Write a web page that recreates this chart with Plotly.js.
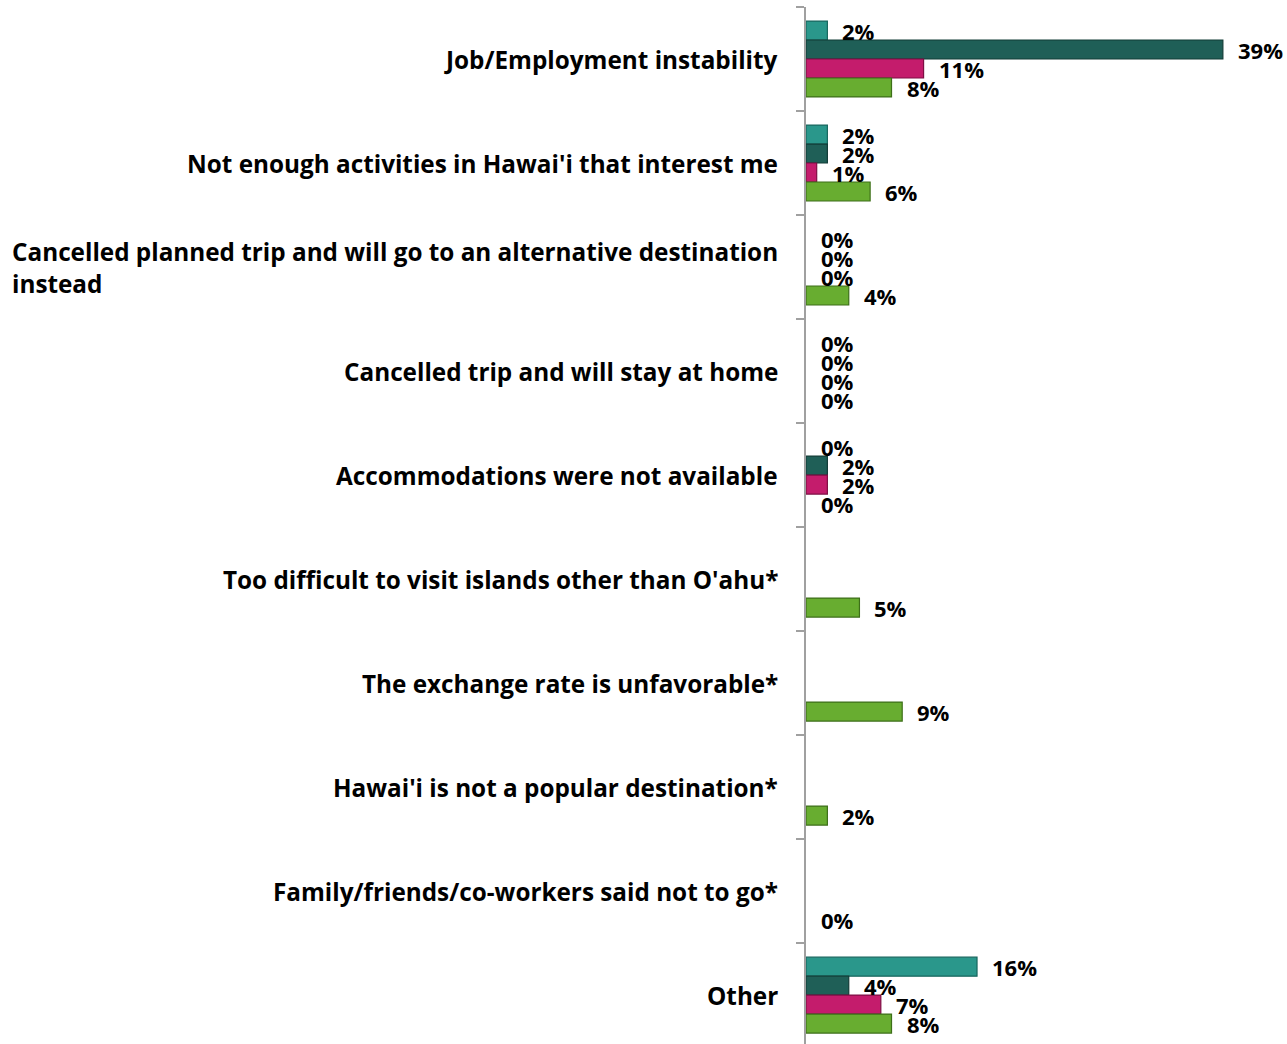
<!DOCTYPE html>
<html>
<head>
<meta charset="utf-8">
<script src="https://cdn.plot.ly/plotly-3.0.1.min.js"></script>
<style>html,body{margin:0;padding:0;background:#fff;}#chart{width:1287px;height:1044px;}</style>
</head>
<body>
<div id="chart"></div>
<script>
var categories = [
  "Job/Employment instability",
  "Not enough activities in Hawai'i that interest me",
  "Cancelled planned trip and will go to an alternative destination<br>instead",
  "Cancelled trip and will stay at home",
  "Accommodations were not available",
  "Too difficult to visit islands other than O'ahu*",
  "The exchange rate is unfavorable*",
  "Hawai'i is not a popular destination*",
  "Family/friends/co-workers said not to go*",
  "Other"
];
var series1 = [2, 2, 0, 0, 0, null, null, null, null, 16];
var series2 = [39, 2, 0, 0, 2, null, null, null, null, 4];
var series3 = [11, 1, 0, 0, 2, null, null, null, null, 7];
var series4 = [8, 6, 4, 0, 0, 5, 9, 2, 0, 8];

var seriesList = [series1, series2, series3, series4];
var fills = ["#2a978b", "#1f5f57", "#c41c6c", "#68ad30"];
var edges = ["#17665e", "#123c37", "#7e0f44", "#3d6f18"];

var traces = seriesList.map(function (vals, i) {
  return {
    type: "bar",
    orientation: "h",
    y: categories,
    x: vals,
    marker: {
      color: fills[i],
      line: { color: edges[i], width: vals.map(function (v) { return v ? 1.2 : 0; }) }
    },
    hoverinfo: "x+y",
    showlegend: false
  };
});

var annotations = [];
var labelFont = { family: "'Open Sans', sans-serif", size: 24.3, color: "#000", weight: 700 };
var valueFont = { family: "'Open Sans', sans-serif", size: 22, color: "#000", weight: 700 };
// category labels
categories.forEach(function (c) {
  annotations.push({
    xref: "paper", yref: "y", x: 0, y: c, xanchor: "right", yanchor: "middle",
    xshift: -26, align: "left", showarrow: false, text: "<b>" + c + "</b>", font: labelFont
  });
});
// value labels
seriesList.forEach(function (vals, i) {
  vals.forEach(function (v, j) {
    if (v === null) return;
    annotations.push({
      xref: "x", yref: "y", x: v, y: categories[j], xanchor: "left", yanchor: "middle",
      xshift: 13, yshift: -(i - 1.5) * 19, showarrow: false,
      text: "<b>" + v + "%</b>", font: valueFont
    });
  });
});

var layout = {
  width: 1287, height: 1044,
  margin: { l: 806, r: 0, t: 7, b: 0 },
  paper_bgcolor: "#fff", plot_bgcolor: "#fff",
  barmode: "group", bargap: 0.27, bargroupgap: 0,
  xaxis: { range: [0, 45], visible: false, fixedrange: true },
  yaxis: {
    type: "category", range: [9.47, -0.5], showticklabels: false,
    showline: true, linecolor: "#a0a0a0", linewidth: 2,
    ticks: "outside", tickson: "boundaries", ticklen: 8, tickcolor: "#a0a0a0", tickwidth: 2,
    showgrid: false, zeroline: false
  },
  annotations: annotations,
  font: valueFont
};

Plotly.newPlot("chart", traces, layout, { displayModeBar: false, staticPlot: true });
</script>
</body>
</html>
